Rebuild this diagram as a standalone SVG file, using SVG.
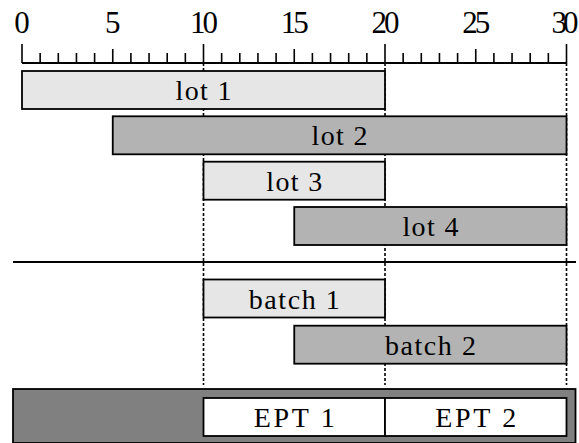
<svg xmlns="http://www.w3.org/2000/svg" width="579" height="443" viewBox="0 0 579 443">
  <style>
    text { font-family: "Liberation Serif", "Times New Roman", serif; font-size: 28px; fill: #000; text-anchor: middle; }
    text.num { font-size: 31px; }
    .bar { stroke: #000; stroke-width: 1.8; }
    .light { fill: #e6e6e6; }
    .mid { fill: #b3b3b3; }
    .dark { fill: #808080; }
    .white { fill: #ffffff; }
    .axis { stroke: #000; stroke-width: 1.8; fill: none; }
    .tick { stroke: #000; stroke-width: 1.6; }
    .guide { stroke: #000; stroke-width: 1.6; stroke-dasharray: 3 2; fill: none; }
  </style>

  <!-- time axis: 0..30, 18.15 px per unit, origin at x=22 -->
  <g id="axis">
    <line class="axis" x1="22" y1="63" x2="566.5" y2="63"/>
    <g class="tick">
      <line x1="22" y1="44" x2="22" y2="63"/>
      <line x1="40.15" y1="53" x2="40.15" y2="63"/>
      <line x1="58.3" y1="53" x2="58.3" y2="63"/>
      <line x1="76.45" y1="53" x2="76.45" y2="63"/>
      <line x1="94.6" y1="53" x2="94.6" y2="63"/>
      <line x1="112.75" y1="49" x2="112.75" y2="63"/>
      <line x1="130.9" y1="53" x2="130.9" y2="63"/>
      <line x1="149.05" y1="53" x2="149.05" y2="63"/>
      <line x1="167.2" y1="53" x2="167.2" y2="63"/>
      <line x1="185.35" y1="53" x2="185.35" y2="63"/>
      <line x1="203.5" y1="44" x2="203.5" y2="63"/>
      <line x1="221.65" y1="53" x2="221.65" y2="63"/>
      <line x1="239.8" y1="53" x2="239.8" y2="63"/>
      <line x1="257.95" y1="53" x2="257.95" y2="63"/>
      <line x1="276.1" y1="53" x2="276.1" y2="63"/>
      <line x1="294.25" y1="49" x2="294.25" y2="63"/>
      <line x1="312.4" y1="53" x2="312.4" y2="63"/>
      <line x1="330.55" y1="53" x2="330.55" y2="63"/>
      <line x1="348.7" y1="53" x2="348.7" y2="63"/>
      <line x1="366.85" y1="53" x2="366.85" y2="63"/>
      <line x1="385" y1="44" x2="385" y2="63"/>
      <line x1="403.15" y1="53" x2="403.15" y2="63"/>
      <line x1="421.3" y1="53" x2="421.3" y2="63"/>
      <line x1="439.45" y1="53" x2="439.45" y2="63"/>
      <line x1="457.6" y1="53" x2="457.6" y2="63"/>
      <line x1="475.75" y1="49" x2="475.75" y2="63"/>
      <line x1="493.9" y1="53" x2="493.9" y2="63"/>
      <line x1="512.05" y1="53" x2="512.05" y2="63"/>
      <line x1="530.2" y1="53" x2="530.2" y2="63"/>
      <line x1="548.35" y1="53" x2="548.35" y2="63"/>
      <line x1="566.5" y1="44" x2="566.5" y2="63"/>
    </g>
    <text class="num" x="22" y="33">0</text>
    <text class="num" x="112.75" y="33">5</text>
    <text class="num" x="204" y="33" textLength="28">10</text>
    <text class="num" x="294.75" y="33" textLength="28">15</text>
    <text class="num" x="385.5" y="33" textLength="28">20</text>
    <text class="num" x="476.25" y="33" textLength="28">25</text>
    <text class="num" x="565" y="33" textLength="27">30</text>
  </g>

  <!-- dotted guides at t = 10, 20, 30 -->
  <g id="guides">
    <line class="guide" x1="203.5" y1="63" x2="203.5" y2="385"/>
    <line class="guide" x1="385" y1="63" x2="385" y2="385"/>
    <line class="guide" x1="566.5" y1="63" x2="566.5" y2="385"/>
  </g>

  <g id="lot1">
    <rect class="bar light" x="22" y="71" width="363" height="38"/>
    <text x="203.5" y="100" textLength="56">lot 1</text>
  </g>
  <g id="lot2">
    <rect class="bar mid" x="112.75" y="116.3" width="453.75" height="38"/>
    <text x="339.6" y="145.3" textLength="56">lot 2</text>
  </g>
  <g id="lot3">
    <rect class="bar light" x="203.5" y="161.7" width="181.5" height="38"/>
    <text x="294.25" y="190.7" textLength="56">lot 3</text>
  </g>
  <g id="lot4">
    <rect class="bar mid" x="294.25" y="207" width="272.25" height="38"/>
    <text x="430.4" y="236" textLength="56">lot 4</text>
  </g>

  <!-- separator between lots and batches -->
  <line id="separator" class="axis" x1="13" y1="262" x2="576" y2="262"/>

  <g id="batch1">
    <rect class="bar light" x="203.5" y="279.5" width="181.5" height="38"/>
    <text x="294.25" y="308.5" textLength="91">batch 1</text>
  </g>
  <g id="batch2">
    <rect class="bar mid" x="294.25" y="325.7" width="272.25" height="38"/>
    <text x="430.4" y="354.7" textLength="91">batch 2</text>
  </g>

  <!-- machine lane -->
  <g id="lane">
    <rect class="bar dark" x="13" y="389" width="562.5" height="54"/>
  </g>
  <g id="ept1">
    <rect class="bar white" x="203.5" y="398" width="181.5" height="38"/>
    <text x="294.25" y="427" textLength="81">EPT 1</text>
  </g>
  <g id="ept2">
    <rect class="bar white" x="385" y="398" width="181.5" height="38"/>
    <text x="475.75" y="427" textLength="81">EPT 2</text>
  </g>
</svg>
